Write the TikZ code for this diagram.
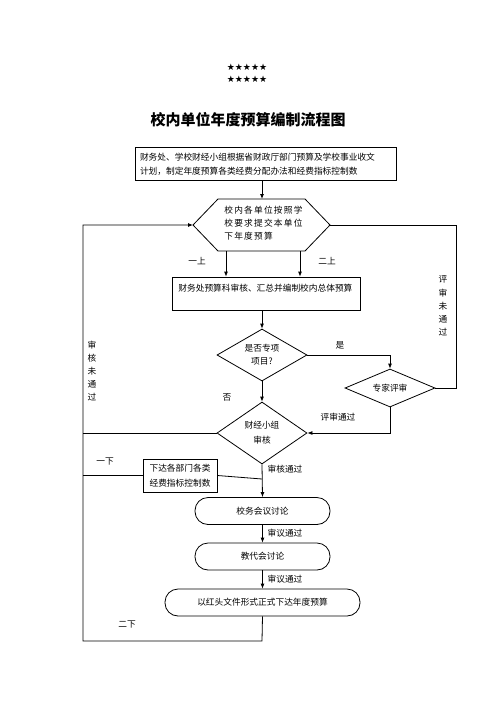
\documentclass[tikz,border=0pt]{standalone}
\usepackage{fontspec}
\newfontfamily\cjk{Noto Sans CJK SC}
\newfontfamily\cjkwide{Noto Sans CJK SC}[LetterSpace=14]
\newfontfamily\symfont{DejaVu Sans}
\usetikzlibrary{shapes.geometric,arrows.meta}
\begin{document}
\begin{tikzpicture}[x=1pt,y=-1pt, line width=0.8pt,
  every node/.style={font=\cjk\fontsize{8.7}{13}\selectfont, inner sep=0pt},
  boxnode/.style={draw, rectangle},
  dia/.style={draw, diamond, align=center},
  pill/.style={draw, rectangle, rounded corners=13pt, minimum height=27pt},
  arr/.style={-{Latex[length=5pt,width=4pt]}},
  vlab/.style={align=center, font=\cjk\fontsize{8.7}{13.2}\selectfont}]
\useasboundingbox (0,0) rectangle (496,702);
% stars and title
\node (stars) at (247,73) [align=center, font=\symfont\fontsize{9}{12}\selectfont] {★★★★★\\★★★★★};
\node (title) at (248,120) [font=\cjk\bfseries\fontsize{15}{18}\selectfont] {校内单位年度预算编制流程图};
% box1
\node[boxnode, minimum width=261pt, minimum height=32pt, text width=251pt, align=left, inner sep=5pt, font=\cjk\fontsize{8.7}{14}\selectfont] (box1) at (265.5,164)
 {财务处、学校财经小组根据省财政厅部门预算及学校事业收文\\计划，制定年度预算各类经费分配办法和经费指标控制数};
% hexagon
\coordinate (hexL) at (193,225);
\coordinate (hexTL) at (218,199);
\coordinate (hexT) at (262,199);
\coordinate (hexTR) at (305,199);
\coordinate (hexR) at (330,225);
\coordinate (hexBR) at (305,251);
\coordinate (hexBL) at (218,251);
\draw (hexL) -- (hexTL) -- (hexTR) -- (hexR) -- (hexBR) -- (hexBL) -- cycle;
\node (hex) at (224,223) [anchor=west, align=left, font=\cjkwide\fontsize{8.7}{13.3}\selectfont] {校内各单位按照学\\校要求提交本单位\\下年度预算};
% box2
\node[boxnode, minimum width=188pt, minimum height=33pt] (box2) at (266,293.5) {};
\node (box2t) at (178,288) [anchor=west] {财务处预算科审核、汇总并编制校内总体预算};
% diamonds
\node[dia, minimum width=90pt, minimum height=52pt, shape aspect=1.7] (dia1) at (262,355) {是否专项\\项目?};
\node[dia, minimum width=90pt, minimum height=38pt, shape aspect=2.4] (dia2) at (390,388) {专家评审};
\node[dia, minimum width=90pt, minimum height=62pt, shape aspect=1.45, font=\cjk\fontsize{8.7}{15}\selectfont] (dia3) at (262,433) {财经小组\\审核};
% box3
\node[boxnode, minimum width=74pt, minimum height=33pt, align=center, font=\cjk\fontsize{8.7}{15}\selectfont] (box3) at (180,475.5) {下达各部门各类\\经费指标控制数};
% pills
\node[pill, minimum width=135pt] (ell1) at (262.5,511) {校务会议讨论};
\node[pill, minimum width=135pt] (ell2) at (262.5,556.5) {教代会讨论};
\node[pill, minimum width=195pt] (ell3) at (262.5,602.5) {以红头文件形式正式下达年度预算};
% helper coordinates
\coordinate (LT) at (83,225);
\coordinate (LB) at (83,641);
\coordinate (bot) at (262,641);
\coordinate (RT) at (456,225);
\coordinate (RM) at (456,388);
\coordinate (yesC) at (390,355);
\coordinate (passC) at (390,433);
\coordinate (trunk3) at (262,479);
\coordinate (h1) at (226,251);
\coordinate (h2) at (300,251);
% connectors
\draw[arr] (box1.south -| hexT) -- (hexT);
\draw[arr] (h1) -- (h1 |- box2.north);
\draw[arr] (h2) -- (h2 |- box2.north);
\draw[arr] (box2.south -| dia1.north) -- (dia1.north);
\draw[arr] (dia1.east) -- (yesC) -- (dia2.north);
\draw[arr] (dia1.south) -- (dia3.north);
\draw[arr] (dia2.south) -- (passC) -- (dia3.east);
\draw (dia2.east) -- (RM) -- (RT) -- (hexR);
\draw[arr] (dia3.south) -- (ell1.north);
\draw[arr] (ell1.south) -- (ell2.north);
\draw[arr] (ell2.south) -- (ell3.north);
\draw[arr] (ell3.south) -- (bot) -- (LB) -- (LT) -- (hexL);
\draw (dia3.west) -- (LT |- dia3.west);
\draw (box3.west) -- (LT |- box3.west);
\draw (box3.east) -- (trunk3);
% labels
\node (l1) at (197,261) {一上};
\node (l2) at (327,261) {二上};
\node (l3) at (340,345) {是};
\node (l4) at (227,397) {否};
\node (l5) at (338,417) {评审通过};
\node (l6) at (285,469) {审核通过};
\node (l7) at (105,462) {一下};
\node (l8) at (285,533) {审议通过};
\node (l9) at (285,579) {审议通过};
\node (l10) at (127,625) {二下};
\node[vlab] (v1) at (443,306) {评\\审\\未\\通\\过};
\node[vlab] (v2) at (92,371) {审\\核\\未\\通\\过};
\end{tikzpicture}
\end{document}
